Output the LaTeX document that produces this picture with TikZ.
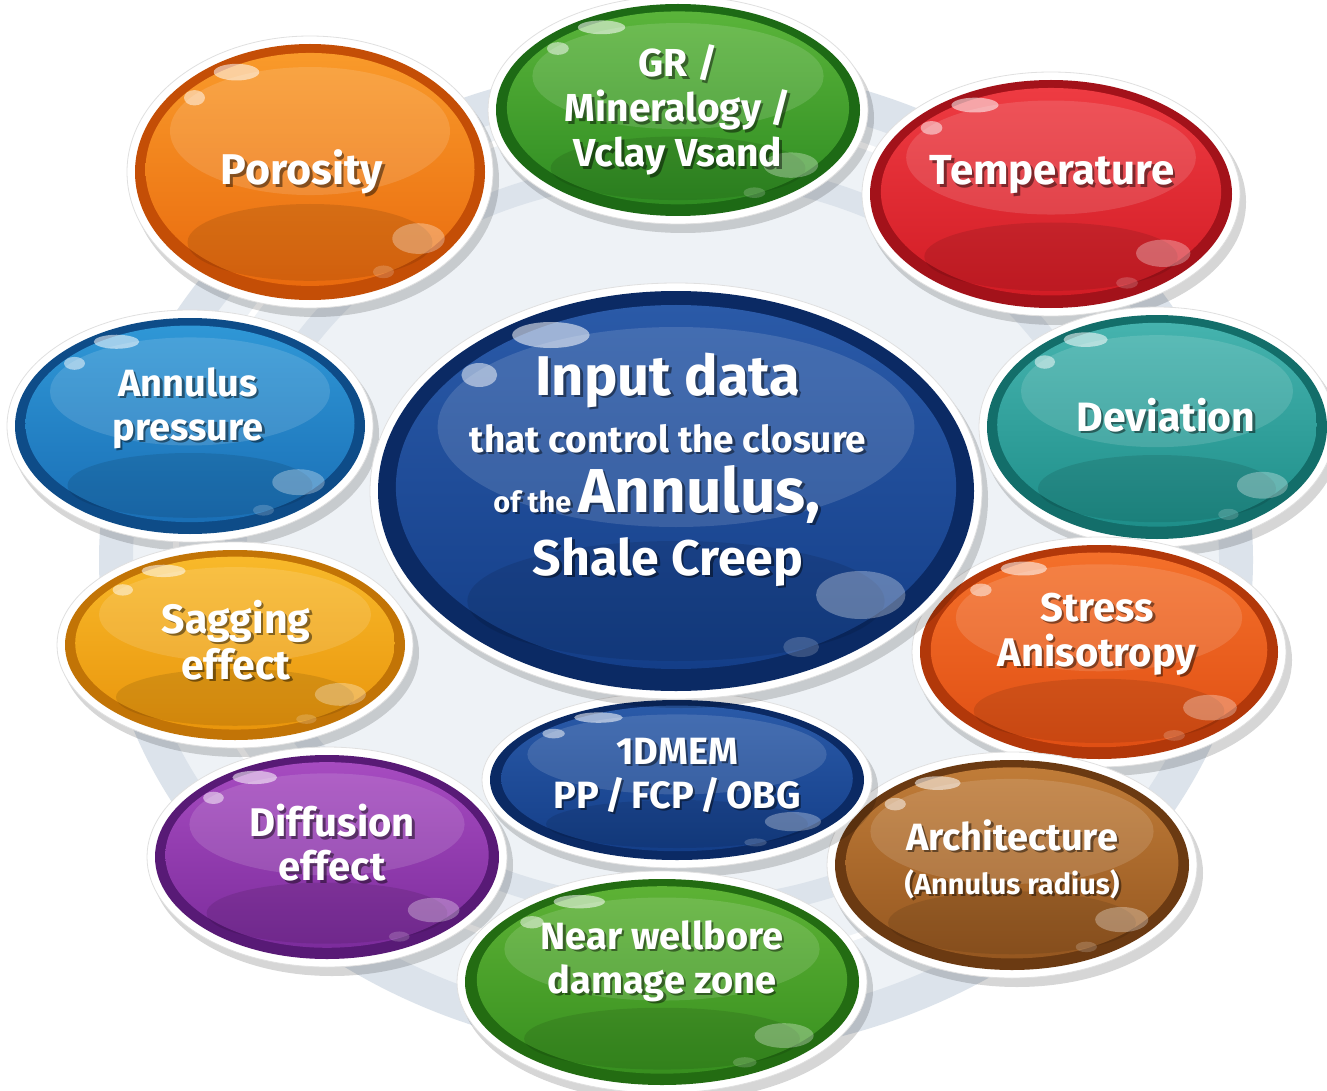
\documentclass[tikz,border=0pt]{standalone}
\usepackage{fontspec}
\setmainfont{Fira Sans}
\usetikzlibrary{shapes.geometric}
% colour triples: A light, B mid, C rim
\definecolor{orA}{HTML}{F99A2A}\definecolor{orB}{HTML}{E96A0E}\definecolor{orC}{HTML}{C44E06}
\definecolor{grA}{HTML}{5AB43A}\definecolor{grB}{HTML}{2F8C22}\definecolor{grC}{HTML}{1D6A15}
\definecolor{reA}{HTML}{EE3B42}\definecolor{reB}{HTML}{D21C25}\definecolor{reC}{HTML}{A3121A}
\definecolor{blA}{HTML}{2F97D6}\definecolor{blB}{HTML}{1A6FB6}\definecolor{blC}{HTML}{0E4C88}
\definecolor{nvA}{HTML}{2A5AA8}\definecolor{nvB}{HTML}{143E88}\definecolor{nvC}{HTML}{0B2A64}
\definecolor{tlA}{HTML}{45B3AE}\definecolor{tlB}{HTML}{1E8E89}\definecolor{tlC}{HTML}{136E6A}
\definecolor{ygA}{HTML}{F8B92A}\definecolor{ygB}{HTML}{E9950C}\definecolor{ygC}{HTML}{C27406}
\definecolor{saA}{HTML}{F4702A}\definecolor{saB}{HTML}{E04F14}\definecolor{saC}{HTML}{B2380A}
\definecolor{puA}{HTML}{A64BC0}\definecolor{puB}{HTML}{7C2C9C}\definecolor{puC}{HTML}{581A76}
\definecolor{brA}{HTML}{C07C38}\definecolor{brB}{HTML}{955720}\definecolor{brC}{HTML}{6B3A12}
\definecolor{ngA}{HTML}{5DB235}\definecolor{ngB}{HTML}{378F1F}\definecolor{ngC}{HTML}{236C12}
\definecolor{ring}{HTML}{DCE3EB}
\definecolor{ringlight}{HTML}{EEF2F6}
\tikzset{
  bubshape/.style={ellipse, inner sep=0pt, draw=none},
  txt/.style={text=white, align=center, inner sep=0pt},
  txtsh/.style={text=black, opacity=0.45, align=center, inner sep=0pt},
}
% #1 name, #2 x, #3 y, #4 rx, #5 ry, #6 colour prefix
\newcommand\bub[6]{%
  \fill[black,opacity=0.16] ({#2+5},{#3+8}) ellipse ({#4+9} and {#5+9});
  \fill[white] (#2,#3) ellipse ({#4+8} and {#5+8});
  \draw[black!12, line width=0.8pt] (#2,#3) ellipse ({#4+8} and {#5+8});
  \node[bubshape, minimum width={2*#4*1pt}, minimum height={2*#5*1pt}, fill=#6C] (#1) at (#2,#3) {};
  \shade[top color=#6A, bottom color=#6B] ({#2},{#3-0.02*#5}) ellipse ({0.94*#4} and {0.91*#5});
  \fill[white,opacity=0.13] ({#2},{#3-0.32*#5}) ellipse ({0.8*#4} and {0.5*#5});
  \fill[black,opacity=0.10] ({#2},{#3+0.55*#5}) ellipse ({0.7*#4} and {0.3*#5});
  \fill[white,opacity=0.55] ({#2-0.42*#4},{#3-0.78*#5}) ellipse ({0.13*#4} and {0.065*#5});
  \fill[white,opacity=0.5] ({#2-0.66*#4},{#3-0.58*#5}) ellipse ({0.06*#4} and {0.06*#5});
  \fill[white,opacity=0.3] ({#2+0.62*#4},{#3+0.52*#5}) ellipse ({0.15*#4} and {0.12*#5});
  \fill[white,opacity=0.18] ({#2+0.42*#4},{#3+0.78*#5}) ellipse ({0.06*#4} and {0.05*#5});
}
% #1 name, #2 x, #3 y, #4 font size, #5 baselineskip, #6 text
\newcommand\btxt[6]{%
  \node[txtsh, font=\bfseries\fontsize{#4}{#5}\selectfont, xshift=2.5pt, yshift=-2.5pt] at (#2,#3) {#6};
  \node[txt, font=\bfseries\fontsize{#4}{#5}\selectfont] (#1) at (#2,#3) {#6};
}
% base-anchored line: #1 name, #2 x, #3 baseline y, #4 text
\newcommand\bline[4]{%
  \node[txtsh, anchor=base, xshift=2.5pt, yshift=-2.5pt] at (#2,#3) {#4};
  \node[txt, anchor=base] (#1) at (#2,#3) {#4};
}
\begin{document}
\begin{tikzpicture}[x=1pt,y=-1pt]
\useasboundingbox (0,0) rectangle (1327,1091);
\fill[white] (0,0) rectangle (1327,1091);
% background rings
\fill[ringlight] (676,560) ellipse (560 and 480);
\draw[ring, line width=34pt] (676,560) ellipse (560 and 480);
\draw[ring, line width=22pt] (676,540) ellipse (440 and 370);
\draw[white, line width=6pt] (676,540) ellipse (500 and 425);

\bub{por}{310}{172}{175}{128}{or}
\bub{gr}{678}{110}{182}{106}{gr}
\bub{tem}{1051}{194}{181}{114}{re}
\bub{ap}{190}{426}{175}{108}{bl}
\bub{dev}{1157}{427}{170}{112}{tl}
\bub{sag}{235}{645}{170}{95}{yg}
\bub{sa}{1099}{652}{179}{107}{sa}
\bub{dif}{327}{857}{172}{102}{pu}
\bub{arc}{1012}{865}{177}{105}{br}
\bub{mem}{677}{780}{187}{80}{nv}
\bub{nw}{662}{982}{197}{103}{ng}
\bub{inp}{676}{491}{298}{200}{nv}

\btxt{port}{302}{172}{43}{49}{Porosity}
\btxt{grt}{678}{110}{39}{45}{GR /\\Mineralogy /\\Vclay Vsand}
\btxt{temt}{1052}{175}{42}{48}{Temperature}
\btxt{apt}{188}{408}{38}{44}{Annulus\\pressure}
\btxt{devt}{1166}{415}{41}{47}{Deviation}
\btxt{sagt}{236}{640}{41}{46}{Sagging\\effect}
\btxt{sat}{1097}{634}{40}{45}{Stress\\Anisotropy}
\btxt{memt}{677}{775}{38}{44}{1DMEM\\PP\,/\,FCP\,/\,OBG}
\btxt{dift}{332}{843}{40}{44}{Diffusion\\effect}
\btxt{arct}{1012}{859}{38}{44}{Architecture\\{\fontsize{29}{44}\selectfont(Annulus radius)}}
\btxt{nwt}{662}{961}{38}{44}{Near wellbore\\damage zone}
\bline{inp1}{668}{395}{\bfseries\fontsize{56}{60}\selectfont Input data}
\bline{inp2}{668}{452}{\bfseries\fontsize{37}{40}\selectfont that control the closure}
\bline{inp3}{657}{512}{\bfseries{\fontsize{29}{40}\selectfont of the }{\fontsize{62}{60}\selectfont Annulus,}}
\bline{inp4}{668}{575}{\bfseries\fontsize{50}{60}\selectfont Shale Creep}
\end{tikzpicture}
\end{document}
